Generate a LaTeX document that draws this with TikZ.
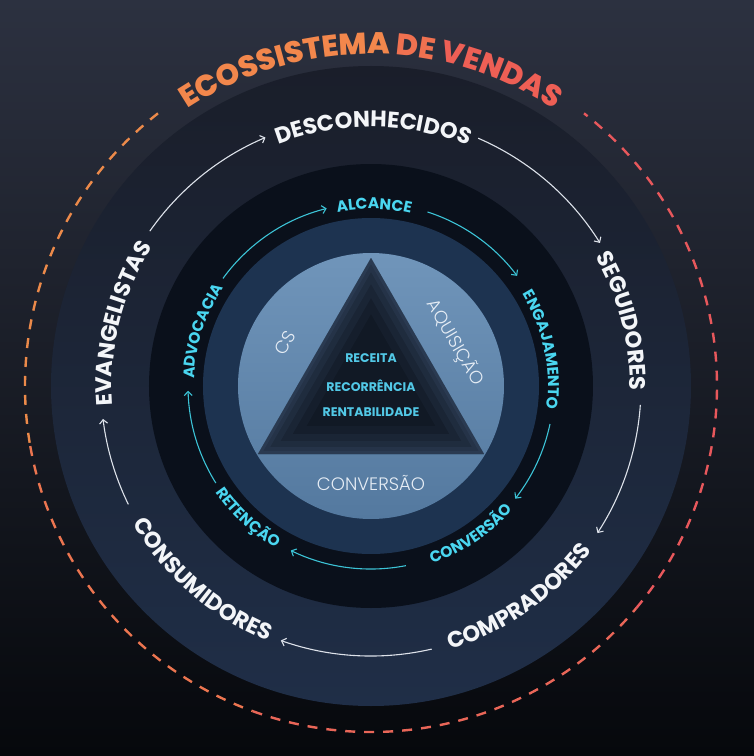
\documentclass[tikz,border=0pt]{standalone}
\usepackage{fontspec}
\setmainfont{Poppins}
\IfFontExistsTF{Poppins ExtraBold}{\newfontfamily\ecofam{Poppins ExtraBold}}{\newfontfamily\ecoraw{Poppins}\newcommand\ecofam{\ecoraw\bfseries}}
\IfFontExistsTF{Poppins Light}{\newfontfamily\thinfam{Poppins Light}}{\newfontfamily\thinfam{Poppins}}
\usetikzlibrary{decorations.text,arrows.meta}

\definecolor{bgtop}{HTML}{2C3140}
\definecolor{bgmid}{HTML}{171B25}
\definecolor{bgbot}{HTML}{06080C}
\definecolor{disctop}{HTML}{1A1E2A}
\definecolor{discbot}{HTML}{1F2E47}
\definecolor{ringin}{HTML}{0A101B}
\definecolor{ringout}{HTML}{161C2A}
\definecolor{halo}{HTML}{1D3350}
\definecolor{halodim}{HTML}{132236}
\definecolor{halofar}{HTML}{0B111C}
\definecolor{coretop}{HTML}{7095BA}
\definecolor{corebot}{HTML}{54799F}
\definecolor{tridark}{HTML}{111925}
\definecolor{triedge}{HTML}{4A6486}
\definecolor{lblwhite}{HTML}{F3F5F8}
\definecolor{arrwhite}{HTML}{DDE2EA}
\definecolor{lblcyan}{HTML}{4AD6F0}
\definecolor{arrcyan}{HTML}{3CC3D6}
\definecolor{corecyan}{HTML}{52C8E6}
\definecolor{thinwhite}{HTML}{E6EDF5}
\definecolor{ecoA}{HTML}{F2874C}
\definecolor{ecoB}{HTML}{F07150}
\definecolor{ecoC}{HTML}{EE5F55}
\definecolor{dashA}{HTML}{EC8A4A}
\definecolor{dashB}{HTML}{EC7550}
\definecolor{dashC}{HTML}{E96658}
\definecolor{dashD}{HTML}{E8585C}

\pgfdeclareradialshading{haloshade}{\pgfpoint{0bp}{0bp}}{color(0bp)=(halo); color(39.5bp)=(halo); color(43bp)=(halodim); color(50bp)=(halofar)}
\pgfdeclareradialshading{ringshade}{\pgfpoint{0bp}{0bp}}{color(0bp)=(ringin); color(37bp)=(ringin); color(50bp)=(ringout)}

\newcommand\ecofont{\ecofam\fontsize{30}{30}\selectfont}
\newcommand\outfont{\bfseries\fontsize{22.5}{22.5}\selectfont}
\newcommand\infont{\bfseries\fontsize{15.5}{15.5}\selectfont}

\begin{document}
\begin{tikzpicture}[x=1pt, y=1pt, >={Straight Barb[length=4pt,width=8pt]},
  whitearrow/.style={->, arrwhite, line width=1.1pt},
  cyanarrow/.style={->, arrcyan, line width=1.1pt},
  dashring/.style={line width=2.4pt, dash pattern=on 10pt off 9pt},
  outerlabel/.style={decorate, decoration={text along path, text align=center, text={|\outfont\color{lblwhite}|#1}}},
  innerlabel/.style={decorate, decoration={text along path, text align=center, text={|\infont\color{lblcyan}|#1}}},
  corestyle/.style={text=corecyan, font=\bfseries\fontsize{12.5}{13}\selectfont},
  thinstyle/.style={text=thinwhite, font=\thinfam\fontsize{18}{18}\selectfont}]
\useasboundingbox (-371,-370) rectangle (383,386);
\shade[top color=bgtop, middle color=bgmid, bottom color=bgbot] (-371,-370) rectangle (383,386);

% discs
\shade[top color=disctop, bottom color=discbot] (0,0) circle[radius=320pt];
\shade[shading=ringshade] (0,0) circle[radius=222pt];
\shade[shading=haloshade] (0,0) circle[radius=168pt];
\shade[top color=coretop, bottom color=corebot] (0,0) circle[radius=133pt];

% triangle
\coordinate (APEX) at (0,128);
\coordinate (BL) at (-113,-68);
\coordinate (BR) at (113,-68);
\fill[tridark] (APEX) -- (BL) -- (BR) -- cycle;
\begin{scope}
\clip (APEX) -- (BL) -- (BR) -- cycle;
\draw[triedge, line width=56pt, opacity=.08] (APEX) -- (BL) -- (BR) -- cycle;
\draw[triedge, line width=40pt, opacity=.1] (APEX) -- (BL) -- (BR) -- cycle;
\draw[triedge, line width=26pt, opacity=.12] (APEX) -- (BL) -- (BR) -- cycle;
\draw[triedge, line width=14pt, opacity=.14] (APEX) -- (BL) -- (BR) -- cycle;
\draw[triedge, line width=6pt, opacity=.16] (APEX) -- (BL) -- (BR) -- cycle;
\end{scope}

\node[corestyle] (RECEITA) at (0,28) {RECEITA};
\node[corestyle] (RECORRENCIA) at (0,0) {RECORRÊNCIA};
\node[corestyle] (RENTABILIDADE) at (0,-26) {RENTABILIDADE};
\node[thinstyle, rotate=60] (CS) at (-86,43) {CS};
\node[thinstyle, rotate=-60] (AQUISICAO) at (84,43) {AQUISIÇÃO};
\node[thinstyle] (CONVBASE) at (0,-97) {CONVERSÃO};

% dashed ring
\draw[dashring, dashA] (128:346pt) arc[start angle=128, end angle=190, radius=346pt];
\draw[dashring, dashB] (190:346pt) arc[start angle=190, end angle=250, radius=346pt];
\draw[dashring, dashC] (250:346pt) arc[start angle=250, end angle=320, radius=346pt];
\draw[dashring, dashD] (320:346pt) arc[start angle=320, end angle=412, radius=346pt];

% title
\path[decorate, decoration={text along path, text align=center,
  text={|\ecofont\color{ecoA}|ECOSSISTEMA |\ecofont\color{ecoB}|DE |\ecofont\color{ecoC}|VENDAS}}]
  (150:332pt) arc[start angle=150, end angle=30, radius=332pt];

% outer cycle
\path[outerlabel=DESCONHECIDOS] (135:259pt) arc[start angle=135, end angle=44, radius=259pt];
\path[outerlabel=SEGUIDORES] (60:259pt) arc[start angle=60, end angle=-31, radius=259pt];
\path[outerlabel=COMPRADORES] (-100:275pt) arc[start angle=-100, end angle=-10, radius=275pt];
\path[outerlabel=CONSUMIDORES] (-176:275pt) arc[start angle=-176, end angle=-86, radius=275pt];
\path[outerlabel=EVANGELISTAS] (211:259pt) arc[start angle=211, end angle=121, radius=259pt];

\coordinate (W1) at (145:270pt);
\coordinate (W2) at (66.6:270pt);
\coordinate (W3) at (-4:270pt);
\coordinate (W4) at (-77:270pt);
\coordinate (W5) at (206:270pt);
\draw[whitearrow] (W1) arc[start angle=145, end angle=113, radius=270pt];
\draw[whitearrow] (W2) arc[start angle=66.6, end angle=32, radius=270pt];
\draw[whitearrow] (W3) arc[start angle=-4, end angle=-33, radius=270pt];
\draw[whitearrow] (W4) arc[start angle=-77, end angle=-109.5, radius=270pt];
\draw[whitearrow] (W5) arc[start angle=206, end angle=187, radius=270pt];

% inner cycle
\path[innerlabel=ALCANCE] (134:177pt) arc[start angle=134, end angle=44, radius=177pt];
\path[innerlabel=ENGAJAMENTO] (57:177pt) arc[start angle=57, end angle=-33, radius=177pt];
\path[innerlabel=CONVERSÃO] (-101:188pt) arc[start angle=-101, end angle=-11, radius=188pt];
\path[innerlabel=RETENÇÃO] (-178:188pt) arc[start angle=-178, end angle=-88, radius=188pt];
\path[innerlabel=ADVOCACIA] (207:177pt) arc[start angle=207, end angle=117, radius=177pt];

\coordinate (C1) at (144:183pt);
\coordinate (C2) at (72:183pt);
\coordinate (C3) at (-12:183pt);
\coordinate (C4) at (-79:183pt);
\coordinate (C5) at (212:183pt);
\draw[cyanarrow] (C1) arc[start angle=144, end angle=104, radius=183pt];
\draw[cyanarrow] (C2) arc[start angle=72, end angle=37, radius=183pt];
\draw[cyanarrow] (C3) arc[start angle=-12, end angle=-38, radius=183pt];
\draw[cyanarrow] (C4) arc[start angle=-79, end angle=-116, radius=183pt];
\draw[cyanarrow] (C5) arc[start angle=212, end angle=181.5, radius=183pt];
\end{tikzpicture}
\end{document}
